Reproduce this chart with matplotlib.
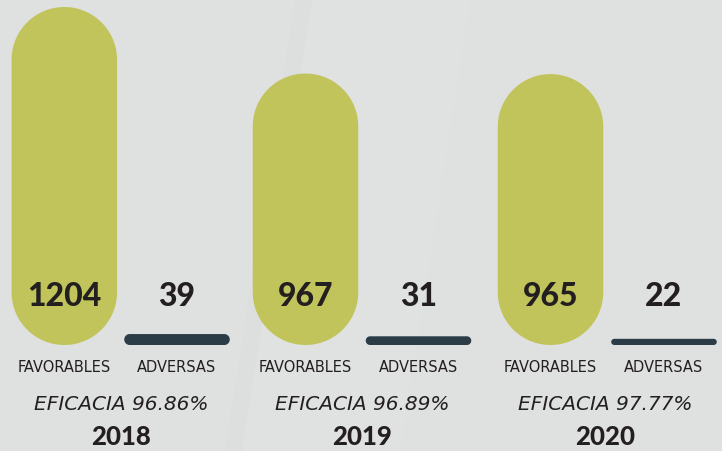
import matplotlib
matplotlib.use("Agg")
import numpy as np
import matplotlib.pyplot as plt
from matplotlib.patches import Polygon

years = ["2018", "2019", "2020"]
favorables = [1204, 967, 965]
adversas = [39, 31, 22]
eficacia = ["96.86%", "96.89%", "97.77%"]
label_fav = "FAVORABLES"
label_adv = "ADVERSAS"

W, H = 722, 451
fig = plt.figure(figsize=(W / 100, H / 100), dpi=100)
bg = "#dfe0e0"
fig.patch.set_facecolor(bg)
ax = fig.add_axes([0, 0, 1, 1])
ax.set_xlim(0, W)
ax.set_ylim(H, 0)
ax.axis("off")

# subtle background stripes
ax.add_patch(Polygon([(312, 0), (470, 0), (400, H), (242, H)], closed=True,
                     facecolor="white", alpha=0.05, edgecolor="none", zorder=0))
ax.add_patch(Polygon([(295, 0), (312, 0), (242, H), (225, H)], closed=True,
                     facecolor="#c8cbcb", alpha=0.07, edgecolor="none", zorder=0))

green = "#c1c45a"
dark = "#2b3c46"
txt = "#231f20"
base = 345.0
k = 338.0 / 1204.0
bw = 105.5
fav_cx = [64.3, 305.5, 550.5]
adv_cx = [177.0, 418.5, 664.0]
grp_cx = [121, 362, 605]


def pill(cx, val, color):
    h = val * k
    x0, x1 = cx - bw / 2, cx + bw / 2
    top = base - h
    t = np.linspace(0, np.pi, 60)
    if h >= bw:
        r = bw / 2
        tx = cx + r * np.cos(t)
        ty = top + r - r * np.sin(t)
        bx = cx - r * np.cos(t)
        by = base - r + r * np.sin(t)
    else:
        r = h / 2
        cy = top + r
        tx = x1 - r + r * np.sin(t)
        ty = cy - r * np.cos(t)
        bx = x0 + r - r * np.sin(t)
        by = cy + r * np.cos(t)
    pts = np.column_stack([np.concatenate([tx, bx]), np.concatenate([ty, by])])
    ax.add_patch(Polygon(pts, closed=True, facecolor=color, edgecolor="none", zorder=2))


numfont = ["Lato", "DejaVu Sans"]
lblfont = ["DejaVu Sans"]
for i in range(3):
    pill(fav_cx[i], favorables[i], green)
    pill(adv_cx[i], adversas[i], dark)
    ax.text(fav_cx[i], 296, str(favorables[i]), ha="center", va="center",
            fontsize=23, fontweight="black", color=txt, family=numfont, zorder=3)
    ax.text(adv_cx[i], 296, str(adversas[i]), ha="center", va="center",
            fontsize=23, fontweight="black", color=txt, family=numfont, zorder=3)
    ax.text(fav_cx[i], 367, label_fav, ha="center", va="center",
            fontsize=10.5, color=txt, family=lblfont)
    ax.text(adv_cx[i], 367, label_adv, ha="center", va="center",
            fontsize=10.5, color=txt, family=lblfont)
    ax.text(grp_cx[i], 405, f"EFICACIA {eficacia[i]}", ha="center", va="center",
            fontsize=14.5, style="italic", color=txt, family=lblfont)
    ax.text(grp_cx[i], 437, years[i], ha="center", va="center",
            fontsize=18.5, fontweight="black", color=txt, family=numfont)

fig.savefig("out.png", dpi=100, facecolor=bg)
